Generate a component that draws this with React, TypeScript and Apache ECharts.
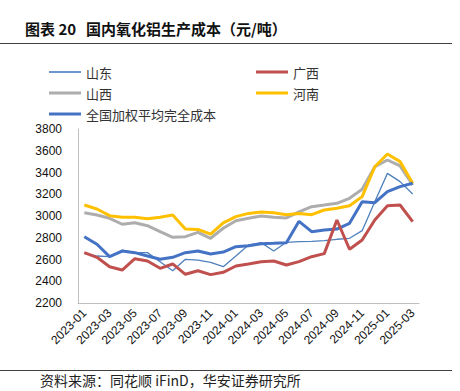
import React, { useEffect, useRef } from "react";
import * as echarts from "echarts";

const categories = [
  "2023-01","2023-02","2023-03","2023-04","2023-05","2023-06","2023-07","2023-08","2023-09","2023-10","2023-11","2023-12",
  "2024-01","2024-02","2024-03","2024-04","2024-05","2024-06","2024-07","2024-08","2024-09","2024-10","2024-11","2024-12",
  "2025-01","2025-02","2025-03",
];
const shandong = [2657,2632,2626,2687,2663,2663,2580,2497,2602,2595,2574,2534,2632,2733,2755,2678,2758,2764,2767,2773,2786,2795,2865,3131,3392,3316,3202];
const guangxi = [2663,2620,2534,2503,2607,2586,2519,2559,2464,2497,2461,2482,2540,2559,2580,2586,2549,2580,2626,2654,2963,2694,2779,2963,3095,3101,2948];
const shanxi = [3030,3009,2979,2924,2938,2911,2856,2804,2810,2850,2795,2887,2957,2979,3000,2988,2982,3037,3086,3101,3117,3163,3246,3453,3515,3460,3285];
const henan = [3101,3064,3003,2988,2988,2975,2988,3009,2880,2877,2834,2936,2994,3024,3037,3030,3012,3024,3012,3055,3071,3095,3178,3453,3570,3500,3301];
const national = [2810,2740,2626,2678,2663,2632,2602,2620,2663,2678,2651,2668,2718,2727,2745,2749,2755,2951,2856,2871,2880,2933,3131,3122,3224,3270,3301];

const yMin = 2200;
const yMax = 3800;
const yStep = 200;

const titleA = "图表 20";
const titleB = "国内氧化铝生产成本（元/吨）";
const sourceText = "资料来源：同花顺 iFinD，华安证券研究所";

const CJK = "'Noto Sans CJK SC', 'Liberation Sans', sans-serif";
const LAT = "'Liberation Sans', Arial, sans-serif";

export default function App() {
  const ref = useRef<HTMLDivElement>(null);
  useEffect(() => {
    if (!ref.current) return;
    const chart = echarts.init(ref.current, undefined, { renderer: "svg" });
    const legendBase = (name: string, left: number, top: number) => ({
      data: [name],
      left,
      top,
      padding: 0,
      orient: "horizontal",
      icon: "rect",
      itemWidth: 32,
      itemHeight: name === "山东" ? 2 : 3,
      itemGap: 5,
      textStyle: { fontFamily: CJK, fontSize: 13, color: "#333", lineHeight: 14 },
    });
    chart.setOption({
      animation: false,
      backgroundColor: "#fff",
      grid: { left: 78, right: 41, top: 129, bottom: 88, containLabel: false },
      legend: [
        legendBase("山东", 49, 65),
        legendBase("广西", 256, 65),
        legendBase("山西", 49, 86),
        legendBase("河南", 256, 86),
        legendBase("全国加权平均完全成本", 49, 107),
      ],
      xAxis: {
        type: "category",
        data: categories,
        boundaryGap: true,
        axisLine: { lineStyle: { color: "#BFBFBF", width: 1 } },
        axisTick: { show: false },
        axisLabel: {
          interval: 1,
          rotate: 45,
          margin: 8,
          fontFamily: LAT,
          fontSize: 12,
          color: "#111",
        },
      },
      yAxis: {
        type: "value",
        min: yMin,
        max: yMax,
        interval: yStep,
        axisLine: { show: true, lineStyle: { color: "#BFBFBF", width: 1 } },
        axisTick: { show: false },
        splitLine: { show: false },
        axisLabel: {
          margin: 16,
          fontFamily: LAT,
          fontSize: 12,
          color: "#111",
          formatter: (v: number) => String(v),
        },
      },
      series: [
        { name: "山东", type: "line", data: shandong, symbol: "none", lineStyle: { width: 1.3, color: "#4F81BD" }, itemStyle: { color: "#6F97CF" }, z: 2 },
        { name: "山西", type: "line", data: shanxi, symbol: "none", lineStyle: { width: 3, color: "#ADADAD" }, itemStyle: { color: "#ADADAD" }, z: 3 },
        { name: "河南", type: "line", data: henan, symbol: "none", lineStyle: { width: 3, color: "#FFC000" }, itemStyle: { color: "#FFC000" }, z: 4 },
        { name: "全国加权平均完全成本", type: "line", data: national, symbol: "none", lineStyle: { width: 3, color: "#4472C4" }, itemStyle: { color: "#4472C4" }, z: 5 },
        { name: "广西", type: "line", data: guangxi, symbol: "none", lineStyle: { width: 3, color: "#C0504D" }, itemStyle: { color: "#C0504D" }, z: 6 },
      ],
      graphic: [
        { type: "text", left: 25, top: 21, style: { text: titleA, fontFamily: CJK, fontSize: 15, fontWeight: "bold", fill: "#111" } },
        { type: "text", left: 86, top: 21, style: { text: titleB, fontFamily: CJK, fontSize: 15, fontWeight: "bold", fill: "#111" } },
        { type: "line", shape: { x1: 0, y1: 43.5, x2: 452, y2: 43.5 }, style: { stroke: "#404040", lineWidth: 1 } },
        { type: "line", shape: { x1: 0, y1: 370.5, x2: 452, y2: 370.5 }, style: { stroke: "#404040", lineWidth: 1 } },
        { type: "text", left: 40, top: 373, style: { text: sourceText, fontFamily: CJK, fontSize: 14, fill: "#222" } },
      ],
    });
    return () => chart.dispose();
  }, []);
  return <div ref={ref} style={{ position: "fixed", left: 0, top: 0, width: 460, height: 391 }} />;
}
